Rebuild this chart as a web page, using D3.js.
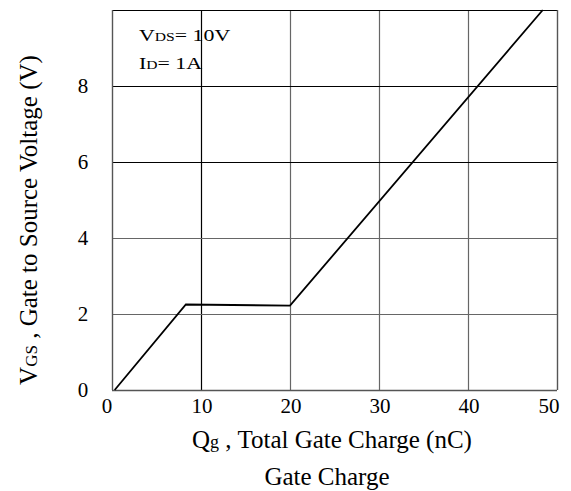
<!DOCTYPE html>
<html>
<head>
<meta charset="utf-8">
<script src="https://cdn.jsdelivr.net/npm/d3@7"></script>
<style>
  body { margin: 0; background: #fff; }
  text { font-family: "Liberation Serif", "Times New Roman", serif; fill: #000; }
</style>
</head>
<body>
<svg id="chart" width="571" height="491"></svg>
<script>
// gate charge curve, Qg (nC) vs VGS (V)
var qg = [0.3, 8.3, 20, 48.4]
var vgs = [0, 2.25, 2.22, 10]

var xTicks = [0, 10, 20, 30, 40, 50]
var yTicks = [0, 2, 4, 6, 8]
// which grid lines are drawn dark in the original
var xDark = [10]
var yDark = [6, 8]

var dimensions = {
  width: 571,
  height: 491,
  margin: { top: 10, bottom: 101, right: 14, left: 112 }
}

var svg = d3.select("#chart")

var xScale = d3.scaleLinear()
  .domain([0, 50])
  .range([dimensions.margin.left, dimensions.width - dimensions.margin.right])

var yScale = d3.scaleLinear()
  .domain([0, 10])
  .range([dimensions.height - dimensions.margin.bottom, dimensions.margin.top])

var x0 = xScale(0), x1 = xScale(50), y0 = yScale(0), y1 = yScale(10)

// grid
svg.append("g")
  .selectAll("line")
  .data(xTicks.filter(d => d > 0 && d < 50))
  .enter()
  .append("line")
  .attr("x1", d => xScale(d) + 0.5)
  .attr("x2", d => xScale(d) + 0.5)
  .attr("y1", y1)
  .attr("y2", y0)
  .attr("stroke", d => xDark.includes(d) ? "#000" : "#666")
  .attr("stroke-width", 1.2)

svg.append("g")
  .selectAll("line")
  .data(yTicks.filter(d => d > 0))
  .enter()
  .append("line")
  .attr("x1", x0)
  .attr("x2", x1)
  .attr("y1", d => yScale(d) + 0.5)
  .attr("y2", d => yScale(d) + 0.5)
  .attr("stroke", d => yDark.includes(d) ? "#000" : "#666")
  .attr("stroke-width", 1.2)

// frame
svg.append("line").attr("x1", x0).attr("x2", x1).attr("y1", y1 + 0.5).attr("y2", y1 + 0.5)
  .attr("stroke", "#000").attr("stroke-width", 1.2)
svg.append("line").attr("x1", x0).attr("x2", x1).attr("y1", y0 + 0.5).attr("y2", y0 + 0.5)
  .attr("stroke", "#555").attr("stroke-width", 1.4)
svg.append("line").attr("x1", x0 + 0.5).attr("x2", x0 + 0.5).attr("y1", y1).attr("y2", y0)
  .attr("stroke", "#555").attr("stroke-width", 1.4)
svg.append("line").attr("x1", x1 + 0.5).attr("x2", x1 + 0.5).attr("y1", y1).attr("y2", y0)
  .attr("stroke", "#555").attr("stroke-width", 1.4)

// curve
var line = d3.line()
  .x((d, i) => xScale(qg[i]))
  .y((d, i) => yScale(vgs[i]))

svg.append("path")
  .datum(qg)
  .attr("d", line)
  .attr("fill", "none")
  .attr("stroke", "#000")
  .attr("stroke-width", 1.8)

// tick labels
svg.append("g")
  .selectAll("text")
  .data(xTicks)
  .enter()
  .append("text")
  .attr("x", d => xScale(d) + (d == 0 ? -5 : d == 50 ? -8 : 1))
  .attr("y", 413)
  .attr("text-anchor", "middle")
  .style("font-size", "21px")
  .text(d => d)

svg.append("g")
  .selectAll("text")
  .data(yTicks)
  .enter()
  .append("text")
  .attr("x", 83)
  .attr("y", d => yScale(d))
  .attr("dy", "0.35em")
  .attr("text-anchor", "middle")
  .style("font-size", "21px")
  .text(d => d)

// axis titles
var xt = svg.append("text")
  .attr("x", 332)
  .attr("y", 448)
  .attr("text-anchor", "middle")
  .style("font-size", "25px")
xt.append("tspan").text("Q")
xt.append("tspan").style("font-size", "18px").text("g")
xt.append("tspan").text(" , Total Gate Charge (nC)")

svg.append("text")
  .attr("x", 327)
  .attr("y", 485)
  .attr("text-anchor", "middle")
  .style("font-size", "25px")
  .text("Gate Charge")

var yt = svg.append("text")
  .attr("transform", "translate(37,220) rotate(-90)")
  .attr("text-anchor", "middle")
  .style("font-size", "25px")
yt.append("tspan").text("V")
yt.append("tspan").style("font-size", "17px").text("GS")
yt.append("tspan").text(" , Gate to Source Voltage (V)")

// test conditions
var a1 = svg.append("text")
  .attr("transform", "translate(139,41) scale(1.25,1)")
  .style("font-size", "17.5px")
a1.append("tspan").text("V")
a1.append("tspan").style("font-size", "12.5px").text("DS")
a1.append("tspan").text("= 10V")

var a2 = svg.append("text")
  .attr("transform", "translate(139,69) scale(1.25,1)")
  .style("font-size", "17.5px")
a2.append("tspan").text("I")
a2.append("tspan").style("font-size", "12.5px").text("D")
a2.append("tspan").text("= 1A")
</script>
</body>
</html>
